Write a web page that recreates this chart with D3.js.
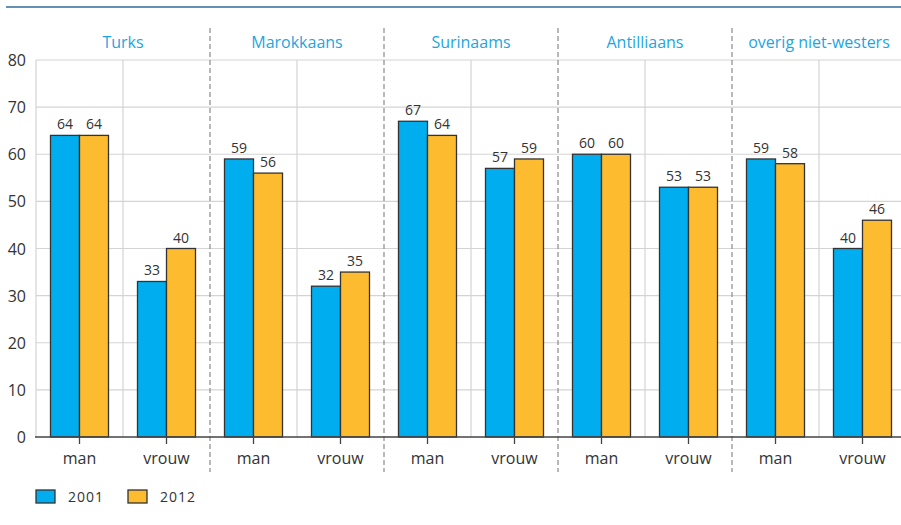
<!DOCTYPE html>
<html lang="nl">
  <head>
    <meta charset="UTF-8" />
    <script src="https://d3js.org/d3.v7.min.js"></script>
    <style>
      body { margin: 0; background: #fff; }
      text { font-family: "Open Sans", "Noto Sans", sans-serif; }
    </style>
  </head>
  <body>
    <div id="chart"></div>
    <script>
      // data
      const groups = ["Turks", "Marokkaans", "Surinaams", "Antilliaans", "overig niet-westers"];
      const sexes = ["man", "vrouw"];
      const years = ["2001", "2012"];
      const values2001 = [64, 33, 59, 32, 67, 57, 60, 53, 59, 40];
      const values2012 = [64, 40, 56, 35, 64, 59, 60, 53, 58, 46];
      const yTicks = [0, 10, 20, 30, 40, 50, 60, 70, 80];
      const colors = ["#00aeef", "#fdbb30"];

      const W = 901, H = 525;
      const margin = { top: 60, left: 36, bottom: 88 };
      const bandW = 87;
      const plotW = bandW * 10;
      const plotH = H - margin.top - margin.bottom;

      const svg = d3.select("#chart").append("svg")
        .attr("width", W).attr("height", H);

      // top rule
      svg.append("line")
        .attr("x1", 6).attr("x2", W).attr("y1", 7).attr("y2", 7)
        .attr("stroke", "#2f6d9c").attr("stroke-width", 1.5);

      const g = svg.append("g").attr("transform", `translate(${margin.left},${margin.top})`);

      const cats = [];
      groups.forEach((gr) => sexes.forEach((s) => cats.push(gr + "|" + s)));
      const rows = cats.map((c, i) => ({ key: c, g: c.split("|")[0], s: c.split("|")[1], v: [values2001[i], values2012[i]] }));

      const x = d3.scaleBand().domain(cats).range([0, plotW]);
      const xg = d3.scaleBand().domain(groups).range([0, plotW]);
      const y = d3.scaleLinear().domain([0, 80]).range([plotH, 0]);
      const xs = d3.scaleBand().domain(years).range([x.bandwidth() / 2 - 29, x.bandwidth() / 2 + 29]);

      // horizontal grid
      g.selectAll(".hg").data(yTicks.slice(1)).join("line")
        .attr("x1", 0).attr("x2", plotW)
        .attr("y1", (d) => y(d)).attr("y2", (d) => y(d))
        .attr("stroke", "#d4d4d4").attr("stroke-width", 1.2);

      // vertical solid grid (left edge and man/vrouw separators)
      const solid = [0].concat(groups.map((gr) => xg(gr) + bandW));
      g.selectAll(".vg").data(solid).join("line")
        .attr("x1", (d) => d).attr("x2", (d) => d)
        .attr("y1", 0).attr("y2", plotH)
        .attr("stroke", "#d4d4d4").attr("stroke-width", 1.2);

      // dashed group separators
      g.selectAll(".dg").data(groups.slice(1)).join("line")
        .attr("x1", (d) => xg(d)).attr("x2", (d) => xg(d))
        .attr("y1", -32).attr("y2", plotH + 35)
        .attr("stroke", "#8a8a8a").attr("stroke-width", 1.2)
        .attr("stroke-dasharray", "5,3");

      // y axis labels
      g.selectAll(".yl").data(yTicks).join("text")
        .attr("x", -10).attr("y", (d) => y(d) + 6)
        .attr("text-anchor", "end").attr("font-size", 16).attr("fill", "#333")
        .text((d) => d);

      // group headers
      g.selectAll(".gh").data(groups).join("text")
        .attr("x", (d) => xg(d) + xg.bandwidth() / 2).attr("y", -12)
        .attr("text-anchor", "middle").attr("font-size", 16).attr("fill", "#1ba6e2")
        .text((d) => d);

      // bars
      const cell = g.selectAll(".cell").data(rows).join("g")
        .attr("transform", (d) => `translate(${x(d.key)},0)`);
      years.forEach((yr, j) => {
        cell.append("rect")
          .attr("x", xs(yr)).attr("width", xs.bandwidth())
          .attr("y", (d) => y(d.v[j])).attr("height", (d) => plotH - y(d.v[j]))
          .attr("fill", colors[j]).attr("stroke", "#333").attr("stroke-width", 1.3);
        cell.append("text")
          .attr("x", xs(yr) + xs.bandwidth() / 2).attr("y", (d) => y(d.v[j]) - 6)
          .attr("text-anchor", "middle").attr("font-size", 14).attr("fill", "#333")
          .text((d) => d.v[j]);
      });

      // x axis
      const xAxis = g.append("g").attr("transform", `translate(0,${plotH})`)
        .call(d3.axisBottom(x).tickSize(7).tickPadding(9).tickFormat((d) => d.split("|")[1]));
      xAxis.select(".domain").attr("stroke", "#444").attr("stroke-width", 1.5).attr("d", `M-1,0H${plotW}`);
      xAxis.selectAll(".tick line").attr("stroke", "#444").attr("stroke-width", 1.3);
      xAxis.selectAll(".tick text").attr("font-size", 16).attr("fill", "#333")
        .style("font-family", '"Open Sans", "Noto Sans", sans-serif');

      // legend
      const leg = svg.append("g").attr("transform", "translate(36,490)");
      years.forEach((yr, j) => {
        const lg = leg.append("g").attr("transform", `translate(${j * 92},0)`);
        lg.append("rect").attr("width", 19).attr("height", 13)
          .attr("fill", colors[j]).attr("stroke", "#333").attr("stroke-width", 1.3);
        lg.append("text").attr("x", 32).attr("y", 12)
          .attr("font-size", 14).attr("fill", "#333").attr("letter-spacing", 1).text(yr);
      });
    </script>
  </body>
</html>
